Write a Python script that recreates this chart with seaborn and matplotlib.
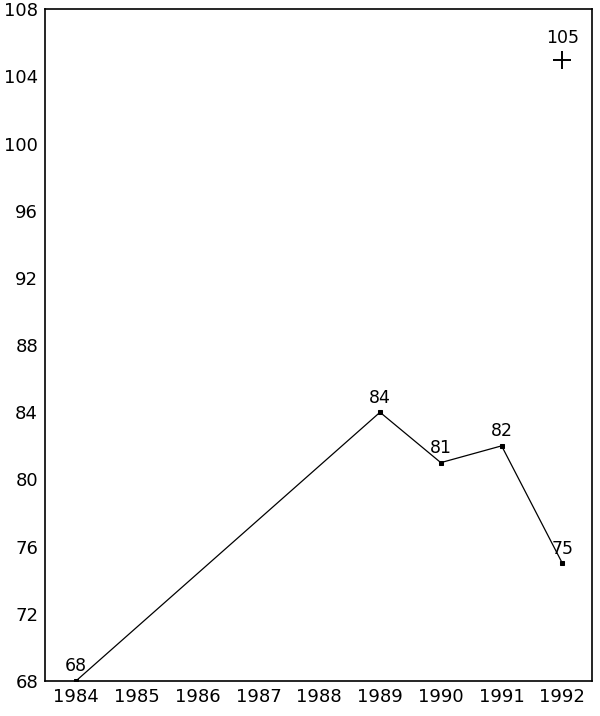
import numpy as np
import pandas as pd
import seaborn as sns
import matplotlib.pyplot as plt

# Données
years = [1984, 1989, 1990, 1991, 1992]
values = [68, 84, 81, 82, 75]
target_year = [1992]
target_value = [105]
x_ticks = list(range(1984, 1993))
y_ticks = list(range(68, 109, 4))

df = pd.DataFrame({"year": years, "value": values})
df_target = pd.DataFrame({"year": target_year, "value": target_value})

sns.set_style("white")
plt.rcParams["font.family"] = ["DejaVu Sans"]
plt.rcParams["text.color"] = "black"
plt.rcParams["xtick.color"] = "black"
plt.rcParams["ytick.color"] = "black"

fig = plt.figure(figsize=(6, 7.16), dpi=100)
ax = fig.add_axes([0.075, 0.049, 0.912, 0.938])

sns.lineplot(data=df, x="year", y="value", ax=ax, color="black", linewidth=0.9,
             marker="s", markersize=3.5, markeredgecolor="black")
sns.scatterplot(data=df_target, x="year", y="value", ax=ax, marker="+", s=160,
                color="black", linewidth=1.4)

# Étiquettes des points
for x, y in zip(years + target_year, values + target_value):
    off = 9 if y == 105 else 4
    ax.annotate(str(y), (x, y), xytext=(0, off), textcoords="offset points",
                ha="center", va="bottom", fontsize=12.5, color="black")

ax.set_xlim(1983.49, 1992.49)
ax.set_ylim(68, 108)
ax.set_xticks(x_ticks)
ax.set_yticks(y_ticks)
ax.tick_params(axis="both", length=0, labelsize=13, pad=5, labelcolor="black")
ax.set_xlabel("")
ax.set_ylabel("")
for s in ax.spines.values():
    s.set_color("black")
    s.set_linewidth(1.2)

plt.savefig("out.png", dpi=100)
plt.close()
